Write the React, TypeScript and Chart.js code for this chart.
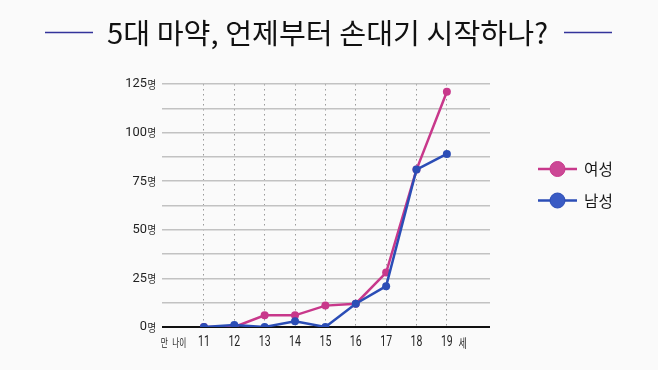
import React, { useEffect, useRef } from "react";
import { Chart, registerables } from "chart.js";

Chart.register(...registerables);

const titleText = "5대 마약, 언제부터 손대기 시작하나?";
const ages = [11, 12, 13, 14, 15, 16, 17, 18, 19];
const female = [0, 0, 6, 6, 11, 12, 28, 81, 121];
const male = [0, 1, 0, 3, 0, 12, 21, 81, 89];
const yLabelValues = [0, 25, 50, 75, 100, 125];
const seriesNames = ["여성", "남성"];
const yUnit = "명";
const xPrefix = "만 나이";
const xSuffix = "세";

const PINK = "#c8388b";
const BLUE = "#2b4db6";
const BG = "#fafafa";

function drawScaled(ctx: CanvasRenderingContext2D, text: string, x: number, y: number, font: string, align: CanvasTextAlign, sx: number, color: string, wordSpacing = "0px") {
  ctx.save();
  ctx.font = font;
  ctx.fillStyle = color;
  ctx.textBaseline = "middle";
  (ctx as any).wordSpacing = wordSpacing;
  ctx.translate(x, y);
  ctx.scale(sx, 1);
  ctx.textAlign = align;
  ctx.fillText(text, 0, 0);
  ctx.restore();
}

const decorPlugin = {
  id: "decor",
  beforeDraw(chart: any) {
    const ctx = chart.ctx as CanvasRenderingContext2D;
    ctx.save();
    ctx.fillStyle = BG;
    ctx.fillRect(0, 0, chart.width, chart.height);
    ctx.restore();
  },
  afterDraw(chart: any) {
    const ctx = chart.ctx as CanvasRenderingContext2D;
    const xs = chart.scales.x;
    const ys = chart.scales.y;

    // Title
    ctx.save();
    const tFont = "28px 'Noto Sans CJK KR'";
    ctx.font = tFont;
    const w = ctx.measureText(titleText).width;
    const target = 441;
    const sx = target / w;
    ctx.restore();
    drawScaled(ctx, titleText, 107, 33, tFont, "left", sx, "#111111");
    // decorative lines
    ctx.save();
    ctx.strokeStyle = "#33339a";
    ctx.lineWidth = 1.6;
    ctx.beginPath();
    ctx.moveTo(45, 32.5);
    ctx.lineTo(93, 32.5);
    ctx.moveTo(564, 32.5);
    ctx.lineTo(612, 32.5);
    ctx.stroke();
    ctx.restore();

    // Y labels
    for (const v of yLabelValues) {
      const py = ys.getPixelForValue(v);
      ctx.save();
      ctx.font = "11px 'Noto Sans CJK KR'";
      const uw = ctx.measureText(yUnit).width * 0.85;
      ctx.restore();
      drawScaled(ctx, yUnit, 156, py + 0.5, "11px 'Noto Sans CJK KR'", "right", 0.85, "#222");
      drawScaled(ctx, String(v), 156 - uw - 0.5, py, "13.5px Roboto", "right", 0.95, "#222");
    }

    // X labels
    const ly = ys.bottom + 15;
    for (const a of ages) {
      drawScaled(ctx, String(a), xs.getPixelForValue(a), ly, "15px Roboto", "center", 0.7, "#222");
    }
    drawScaled(ctx, xPrefix, xs.getPixelForValue(10), ly + 1, "11px 'Noto Sans CJK KR'", "center", 0.7, "#222", "4px");
    drawScaled(ctx, xSuffix, xs.getPixelForValue(19.52), ly + 1, "12px 'Noto Sans CJK KR'", "center", 0.75, "#222");

    // Legend
    const items = [
      { name: seriesNames[0], color: PINK, fill: "#cc4795", y: 169 },
      { name: seriesNames[1], color: BLUE, fill: "#3a5bc4", y: 200.5 },
    ];
    for (const it of items) {
      ctx.save();
      ctx.strokeStyle = it.color;
      ctx.lineWidth = 2.5;
      ctx.beginPath();
      ctx.moveTo(538, it.y);
      ctx.lineTo(577, it.y);
      ctx.stroke();
      ctx.beginPath();
      ctx.arc(557.5, it.y, 7.5, 0, Math.PI * 2);
      ctx.fillStyle = it.fill;
      ctx.fill();
      ctx.lineWidth = 1;
      ctx.strokeStyle = it.color;
      ctx.stroke();
      ctx.restore();
      drawScaled(ctx, it.name, 584, it.y, "16px 'Noto Sans CJK KR'", "left", 0.98, "#1a1a1a");
    }
  },
};

export default function App() {
  const ref = useRef<HTMLCanvasElement>(null);
  useEffect(() => {
    document.body.style.margin = "0";
    const canvas = ref.current!;
    const chart = new Chart(canvas, {
      type: "line",
      data: {
        datasets: [
          {
            label: seriesNames[1],
            data: ages.map((a, i) => ({ x: a, y: male[i] })),
            borderColor: BLUE,
            backgroundColor: BLUE,
            pointBackgroundColor: BLUE,
            pointBorderColor: BLUE,
            borderWidth: 2.5,
            pointRadius: 4,
            pointBorderWidth: 0,
            tension: 0,
            order: 0,
          },
          {
            label: seriesNames[0],
            data: ages.map((a, i) => ({ x: a, y: female[i] })),
            borderColor: PINK,
            backgroundColor: PINK,
            pointBackgroundColor: PINK,
            pointBorderColor: PINK,
            borderWidth: 2.5,
            pointRadius: 4,
            pointBorderWidth: 0,
            tension: 0,
            order: 1,
          },
        ],
      },
      options: {
        responsive: false,
        animation: false,
        layout: { padding: { left: 0, right: 168, top: 84, bottom: 0 } },
        plugins: {
          legend: { display: false },
          tooltip: { enabled: false },
          title: { display: false },
        },
        scales: {
          x: {
            type: "linear",
            min: 9.62,
            max: 20.42,
            afterBuildTicks: (scale: any) => {
              scale.ticks = ages.map((v) => ({ value: v }));
            },
            afterFit: (scale: any) => {
              scale.height = 43;
            },
            ticks: { display: false },
            border: { display: false, dash: [1.5, 3.5] },
            grid: {
              drawTicks: false,
              color: "#9a9a9a",
              lineWidth: 1,
            },
          },
          y: {
            min: 0,
            max: 125,
            afterBuildTicks: (scale: any) => {
              const t = [];
              for (let v = 0; v <= 125; v += 12.5) t.push({ value: v });
              scale.ticks = t;
            },
            afterFit: (scale: any) => {
              scale.width = 162;
            },
            ticks: { display: false },
            border: { display: false },
            grid: {
              drawTicks: false,
              color: (c: any) => (c.tick && c.tick.value === 0 ? "#111111" : "#c2c2c2"),
              lineWidth: (c: any) => (c.tick && c.tick.value === 0 ? 2 : 1.5),
            },
          },
        },
      },
      plugins: [decorPlugin],
    });
    return () => chart.destroy();
  }, []);
  return (
    <div style={{ width: 658, height: 370 }}>
      <canvas ref={ref} width={658} height={370} style={{ display: "block" }} />
    </div>
  );
}
